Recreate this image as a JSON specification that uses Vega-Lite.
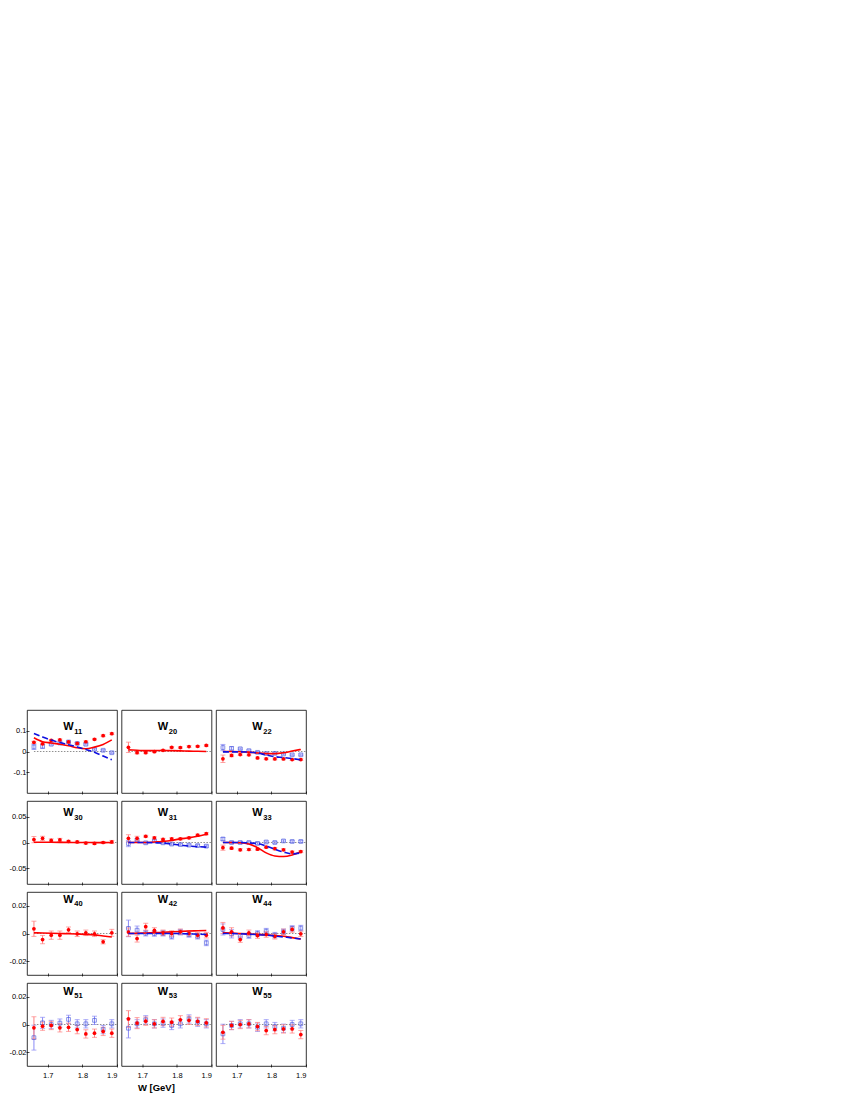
{
"$schema":"https://vega.github.io/schema/vega-lite/v6.json",
"padding":{"left":6,"top":709,"right":5,"bottom":5},
"spacing":5,
"config":{"font":"Liberation Sans","view":{"stroke":"#000","strokeWidth":0.8},
 "axis":{"labelFontSize":7.5,"labelColor":"#000","tickColor":"#000","tickSize":-3,"tickWidth":0.7,"domain":false,"grid":false,"labelPadding":3},
 "axisY":{"minExtent":20,"maxExtent":20},
 "axisX":{"minExtent":0}},
"title":{"text":"W [GeV]","orient":"bottom","fontSize":9.5,"fontWeight":"bold","offset":4,"anchor":"middle"},
"datasets":{"d":[
{"p":"W11","r":1,"t":"11","W":1.66,"a":0.044,"ae":0.005,"b":0.022,"be":0.012,"m":0.066,"n":0.087},
{"p":"W11","r":1,"W":1.685,"a":0.037,"ae":0.004,"b":0.025,"be":0.01,"m":0.047,"n":0.07},
{"p":"W11","r":1,"W":1.71,"a":0.054,"ae":0.004,"b":0.035,"be":0.004,"m":0.041,"n":0.055},
{"p":"W11","r":1,"W":1.735,"a":0.056,"ae":0.004,"b":0.041,"be":0.004,"m":0.035,"n":0.043},
{"p":"W11","r":1,"W":1.76,"a":0.046,"ae":0.004,"b":0.046,"be":0.004,"m":0.028,"n":0.033},
{"p":"W11","r":1,"W":1.785,"a":0.039,"ae":0.004,"b":0.039,"be":0.004,"m":0.018,"n":0.022},
{"p":"W11","r":1,"W":1.81,"a":0.047,"ae":0.004,"b":0.035,"be":0.004,"m":0.013,"n":0.01},
{"p":"W11","r":1,"W":1.835,"a":0.059,"ae":0.004,"b":0.011,"be":0.004,"m":0.021,"n":-0.004},
{"p":"W11","r":1,"W":1.86,"a":0.076,"ae":0.004,"b":0.006,"be":0.004,"m":0.034,"n":-0.022},
{"p":"W11","r":1,"W":1.885,"a":0.086,"ae":0.004,"b":-0.006,"be":0.004,"m":0.056,"n":-0.04},
{"p":"W20","r":1,"t":"20","W":1.66,"a":0.02,"ae":0.025,"m":0.008},
{"p":"W20","r":1,"W":1.685,"a":-0.006,"ae":0.005,"m":0.006},
{"p":"W20","r":1,"W":1.71,"a":-0.006,"ae":0.004,"m":0.004},
{"p":"W20","r":1,"W":1.735,"a":-0.001,"ae":0.004,"m":0.004},
{"p":"W20","r":1,"W":1.76,"a":0.006,"ae":0.004,"m":0.005},
{"p":"W20","r":1,"W":1.785,"a":0.02,"ae":0.004,"m":0.004},
{"p":"W20","r":1,"W":1.81,"a":0.019,"ae":0.004,"m":0.003},
{"p":"W20","r":1,"W":1.835,"a":0.024,"ae":0.004,"m":0.002},
{"p":"W20","r":1,"W":1.86,"a":0.025,"ae":0.004,"m":0.001},
{"p":"W20","r":1,"W":1.885,"a":0.029,"ae":0.004,"m":0.0},
{"p":"W22","r":1,"t":"22","W":1.66,"a":-0.035,"ae":0.018,"b":0.019,"be":0.015,"m":0.0,"n":-0.002},
{"p":"W22","r":1,"W":1.685,"a":-0.019,"ae":0.006,"b":0.015,"be":0.008,"m":0.0,"n":-0.002},
{"p":"W22","r":1,"W":1.71,"a":-0.015,"ae":0.004,"b":0.013,"be":0.004,"m":-0.001,"n":-0.002},
{"p":"W22","r":1,"W":1.735,"a":-0.016,"ae":0.004,"b":0.004,"be":0.004,"m":-0.003,"n":-0.003},
{"p":"W22","r":1,"W":1.76,"a":-0.031,"ae":0.004,"b":-0.004,"be":0.004,"m":-0.007,"n":-0.007},
{"p":"W22","r":1,"W":1.785,"a":-0.035,"ae":0.004,"b":-0.01,"be":0.004,"m":-0.01,"n":-0.017},
{"p":"W22","r":1,"W":1.81,"a":-0.036,"ae":0.004,"b":-0.009,"be":0.004,"m":-0.01,"n":-0.025},
{"p":"W22","r":1,"W":1.835,"a":-0.036,"ae":0.004,"b":-0.012,"be":0.004,"m":-0.006,"n":-0.029},
{"p":"W22","r":1,"W":1.86,"a":-0.039,"ae":0.004,"b":-0.016,"be":0.004,"m":0.002,"n":-0.034},
{"p":"W22","r":1,"W":1.885,"a":-0.039,"ae":0.004,"b":-0.016,"be":0.004,"m":0.01,"n":-0.04},
{"p":"W30","r":2,"t":"30","W":1.66,"a":0.0056,"ae":0.006,"m":0.0005},
{"p":"W30","r":2,"W":1.685,"a":0.008,"ae":0.004,"m":0.0005},
{"p":"W30","r":2,"W":1.71,"a":0.004,"ae":0.003,"m":0.0004},
{"p":"W30","r":2,"W":1.735,"a":0.005,"ae":0.003,"m":0.0003},
{"p":"W30","r":2,"W":1.76,"a":0.002,"ae":0.002,"m":0.0002},
{"p":"W30","r":2,"W":1.785,"a":0.001,"ae":0.002,"m":0.0},
{"p":"W30","r":2,"W":1.81,"a":-0.001,"ae":0.002,"m":0.0},
{"p":"W30","r":2,"W":1.835,"a":-0.0017,"ae":0.002,"m":-0.0002},
{"p":"W30","r":2,"W":1.86,"a":0.0,"ae":0.002,"m":-0.0002},
{"p":"W30","r":2,"W":1.885,"a":0.001,"ae":0.003,"m":0.0},
{"p":"W31","r":2,"t":"31","W":1.66,"a":0.008,"ae":0.007,"b":-0.002,"be":0.006,"m":0.0,"n":0.0},
{"p":"W31","r":2,"W":1.685,"a":0.008,"ae":0.004,"b":0.0045,"be":0.003,"m":0.0,"n":0.0},
{"p":"W31","r":2,"W":1.71,"a":0.012,"ae":0.002,"b":-0.0006,"be":0.002,"m":0.0,"n":0.0},
{"p":"W31","r":2,"W":1.735,"a":0.009,"ae":0.002,"b":0.003,"be":0.002,"m":0.001,"n":-0.0005},
{"p":"W31","r":2,"W":1.76,"a":0.006,"ae":0.002,"b":-0.0006,"be":0.002,"m":0.002,"n":-0.001},
{"p":"W31","r":2,"W":1.785,"a":0.007,"ae":0.002,"b":-0.003,"be":0.002,"m":0.004,"n":-0.003},
{"p":"W31","r":2,"W":1.81,"a":0.007,"ae":0.002,"b":-0.004,"be":0.002,"m":0.007,"n":-0.005},
{"p":"W31","r":2,"W":1.835,"a":0.009,"ae":0.002,"b":-0.005,"be":0.002,"m":0.009,"n":-0.007},
{"p":"W31","r":2,"W":1.86,"a":0.014,"ae":0.002,"b":-0.006,"be":0.002,"m":0.012,"n":-0.008},
{"p":"W31","r":2,"W":1.885,"a":0.017,"ae":0.002,"b":-0.007,"be":0.002,"m":0.016,"n":-0.009},
{"p":"W33","r":2,"t":"33","W":1.66,"a":-0.01,"ae":0.005,"b":0.0067,"be":0.003,"m":0.0,"n":0.0},
{"p":"W33","r":2,"W":1.685,"a":-0.011,"ae":0.002,"b":0.0,"be":0.002,"m":0.0,"n":0.0},
{"p":"W33","r":2,"W":1.71,"a":-0.014,"ae":0.002,"b":0.0,"be":0.002,"m":-0.0005,"n":0.0},
{"p":"W33","r":2,"W":1.735,"a":-0.0135,"ae":0.002,"b":0.0,"be":0.002,"m":-0.003,"n":-0.001},
{"p":"W33","r":2,"W":1.76,"a":-0.013,"ae":0.002,"b":-0.0017,"be":0.002,"m":-0.01,"n":-0.002},
{"p":"W33","r":2,"W":1.785,"a":-0.009,"ae":0.002,"b":0.001,"be":0.002,"m":-0.02,"n":-0.007},
{"p":"W33","r":2,"W":1.81,"a":-0.012,"ae":0.002,"b":0.0,"be":0.002,"m":-0.026,"n":-0.013},
{"p":"W33","r":2,"W":1.835,"a":-0.014,"ae":0.002,"b":0.003,"be":0.002,"m":-0.027,"n":-0.0185},
{"p":"W33","r":2,"W":1.86,"a":-0.0185,"ae":0.002,"b":0.002,"be":0.002,"m":-0.024,"n":-0.022},
{"p":"W33","r":2,"W":1.885,"a":-0.0175,"ae":0.002,"b":0.002,"be":0.002,"m":-0.018,"n":-0.02},
{"p":"W40","r":3,"t":"40","W":1.66,"a":0.0034,"ae":0.0055,"m":0.0005},
{"p":"W40","r":3,"W":1.685,"a":-0.0044,"ae":0.003,"m":0.0004},
{"p":"W40","r":3,"W":1.71,"a":-0.0012,"ae":0.003,"m":0.0002},
{"p":"W40","r":3,"W":1.735,"a":-0.0012,"ae":0.003,"m":0.0},
{"p":"W40","r":3,"W":1.76,"a":0.0027,"ae":0.002,"m":-0.0002},
{"p":"W40","r":3,"W":1.785,"a":-0.0002,"ae":0.002,"m":-0.0004},
{"p":"W40","r":3,"W":1.81,"a":0.0005,"ae":0.002,"m":-0.0006},
{"p":"W40","r":3,"W":1.835,"a":-0.0002,"ae":0.002,"m":-0.001},
{"p":"W40","r":3,"W":1.86,"a":-0.006,"ae":0.0015,"m":-0.0018},
{"p":"W40","r":3,"W":1.885,"a":0.0005,"ae":0.0025,"m":-0.0025},
{"p":"W42","r":3,"t":"42","W":1.66,"a":0.001,"ae":0.003,"b":0.0037,"be":0.006,"m":0.0,"n":0.0},
{"p":"W42","r":3,"W":1.685,"a":-0.0037,"ae":0.0025,"b":0.0024,"be":0.003,"m":0.0002,"n":0.0},
{"p":"W42","r":3,"W":1.71,"a":0.0049,"ae":0.0025,"b":0.0002,"be":0.002,"m":0.0004,"n":0.0},
{"p":"W42","r":3,"W":1.735,"a":0.0022,"ae":0.002,"b":0.0,"be":0.002,"m":0.0006,"n":0.0},
{"p":"W42","r":3,"W":1.76,"a":0.0005,"ae":0.002,"b":0.0002,"be":0.002,"m":0.0009,"n":0.0},
{"p":"W42","r":3,"W":1.785,"a":0.0,"ae":0.002,"b":-0.002,"be":0.002,"m":0.0012,"n":0.0},
{"p":"W42","r":3,"W":1.81,"a":0.0012,"ae":0.002,"b":0.001,"be":0.002,"m":0.0015,"n":-0.0001},
{"p":"W42","r":3,"W":1.835,"a":0.0,"ae":0.002,"b":-0.0007,"be":0.002,"m":0.0018,"n":-0.0003},
{"p":"W42","r":3,"W":1.86,"a":-0.0012,"ae":0.002,"b":-0.002,"be":0.002,"m":0.002,"n":-0.0005},
{"p":"W42","r":3,"W":1.885,"a":-0.0012,"ae":0.002,"b":-0.0068,"be":0.002,"m":0.0022,"n":-0.0007},
{"p":"W44","r":3,"t":"44","W":1.66,"a":0.004,"ae":0.004,"b":0.0029,"be":0.004,"m":0.0005,"n":0.0},
{"p":"W44","r":3,"W":1.685,"a":0.0012,"ae":0.003,"b":-0.0002,"be":0.003,"m":0.0003,"n":0.0},
{"p":"W44","r":3,"W":1.71,"a":-0.0044,"ae":0.002,"b":-0.002,"be":0.002,"m":0.0,"n":-0.0002},
{"p":"W44","r":3,"W":1.735,"a":0.0005,"ae":0.002,"b":-0.0015,"be":0.002,"m":-0.0003,"n":-0.0005},
{"p":"W44","r":3,"W":1.76,"a":-0.0015,"ae":0.002,"b":0.0,"be":0.002,"m":-0.0006,"n":-0.0008},
{"p":"W44","r":3,"W":1.785,"a":-0.0007,"ae":0.002,"b":0.0017,"be":0.002,"m":-0.001,"n":-0.0012},
{"p":"W44","r":3,"W":1.81,"a":-0.002,"ae":0.002,"b":-0.0012,"be":0.002,"m":-0.0015,"n":-0.0018},
{"p":"W44","r":3,"W":1.835,"a":0.0012,"ae":0.002,"b":0.0012,"be":0.002,"m":-0.002,"n":-0.0025},
{"p":"W44","r":3,"W":1.86,"a":0.0029,"ae":0.002,"b":0.0037,"be":0.002,"m":-0.003,"n":-0.0032},
{"p":"W44","r":3,"W":1.885,"a":-0.0002,"ae":0.002,"b":0.0039,"be":0.002,"m":-0.004,"n":-0.004},
{"p":"W51","r":4,"t":"51","W":1.66,"a":-0.0024,"ae":0.008,"b":-0.0095,"be":0.009,"m":0.0,"n":0.0},
{"p":"W51","r":4,"W":1.685,"a":-0.0012,"ae":0.003,"b":0.0012,"be":0.004},
{"p":"W51","r":4,"W":1.71,"a":-0.0007,"ae":0.003,"b":0.0,"be":0.003},
{"p":"W51","r":4,"W":1.735,"a":-0.0024,"ae":0.003,"b":0.001,"be":0.003},
{"p":"W51","r":4,"W":1.76,"a":-0.002,"ae":0.003,"b":0.0037,"be":0.003},
{"p":"W51","r":4,"W":1.785,"a":-0.0037,"ae":0.003,"b":0.0005,"be":0.003},
{"p":"W51","r":4,"W":1.81,"a":-0.0068,"ae":0.003,"b":0.0005,"be":0.003},
{"p":"W51","r":4,"W":1.835,"a":-0.0063,"ae":0.003,"b":0.003,"be":0.003},
{"p":"W51","r":4,"W":1.86,"a":-0.005,"ae":0.003,"b":-0.0037,"be":0.003},
{"p":"W51","r":4,"W":1.885,"a":-0.0063,"ae":0.003,"b":0.0005,"be":0.003,"m":0.0,"n":0.0},
{"p":"W53","r":4,"t":"53","W":1.66,"a":0.004,"ae":0.006,"b":-0.0027,"be":0.007,"m":0.0,"n":0.0},
{"p":"W53","r":4,"W":1.685,"a":0.001,"ae":0.004,"b":0.0005,"be":0.003},
{"p":"W53","r":4,"W":1.71,"a":0.0024,"ae":0.003,"b":0.0034,"be":0.003},
{"p":"W53","r":4,"W":1.735,"a":0.0005,"ae":0.003,"b":0.0005,"be":0.003},
{"p":"W53","r":4,"W":1.76,"a":0.0022,"ae":0.003,"b":0.001,"be":0.003},
{"p":"W53","r":4,"W":1.785,"a":0.0017,"ae":0.003,"b":-0.0007,"be":0.003},
{"p":"W53","r":4,"W":1.81,"a":0.0034,"ae":0.003,"b":0.0005,"be":0.003},
{"p":"W53","r":4,"W":1.835,"a":0.003,"ae":0.003,"b":0.004,"be":0.003},
{"p":"W53","r":4,"W":1.86,"a":0.0022,"ae":0.003,"b":0.0017,"be":0.003},
{"p":"W53","r":4,"W":1.885,"a":0.0012,"ae":0.003,"b":0.0005,"be":0.003,"m":0.0,"n":0.0},
{"p":"W55","r":4,"t":"55","W":1.66,"a":-0.0056,"ae":0.005,"b":-0.0068,"be":0.007,"m":0.0,"n":0.0},
{"p":"W55","r":4,"W":1.685,"a":-0.0007,"ae":0.003,"b":-0.0007,"be":0.003},
{"p":"W55","r":4,"W":1.71,"a":0.0,"ae":0.003,"b":0.0005,"be":0.003},
{"p":"W55","r":4,"W":1.735,"a":0.0005,"ae":0.003,"b":0.0005,"be":0.003},
{"p":"W55","r":4,"W":1.76,"a":-0.0015,"ae":0.003,"b":-0.002,"be":0.003},
{"p":"W55","r":4,"W":1.785,"a":-0.0044,"ae":0.003,"b":0.0005,"be":0.003},
{"p":"W55","r":4,"W":1.81,"a":-0.0037,"ae":0.003,"b":-0.0015,"be":0.003},
{"p":"W55","r":4,"W":1.835,"a":-0.0032,"ae":0.003,"b":-0.0027,"be":0.003},
{"p":"W55","r":4,"W":1.86,"a":-0.0032,"ae":0.003,"b":0.0,"be":0.003},
{"p":"W55","r":4,"W":1.885,"a":-0.0073,"ae":0.003,"b":0.0005,"be":0.003,"m":0.0,"n":0.0}
]},
"vconcat":[
{"data":{"name":"d"},"transform":[{"filter":"datum.r==1"}],
 "facet":{"column":{"field":"p","type":"nominal","header":null}},"spacing":2.5,
 "spec":{"width":90,"height":83,"layer":[
  {"transform":[{"filter":"datum.t"}],"mark":{"type":"rule","color":"#444","strokeWidth":0.6,"strokeDash":[1.5,1.5]},
   "encoding":{"x":{"field":"W","type":"quantitative","scale":{"domain":[1.645,1.9]},"axis":{"values":[1.7,1.8,1.9],"labels":false,"title":null}},
     "y":{"datum":0,"type":"quantitative","scale":{"domain":[-0.153,0.153]},"axis":{"values":[-0.1,0,0.1],"title":null,"labelExpr":"datum.value < 0 ? '-' + format(-datum.value,'~g') : format(datum.value,'~g')"}},
     "x2":{"datum":1.9}}},
  {"transform":[{"filter":"isValid(datum.b)"}],"mark":{"type":"errorbar","color":"#8a8af5","ticks":true},"encoding":{"x":{"field":"W","type":"quantitative"},"y":{"field":"b","type":"quantitative","title":null},"yError":{"field":"be"}}},
  {"transform":[{"filter":"isValid(datum.a)"}],"mark":{"type":"errorbar","color":"#ff8080","ticks":true},"encoding":{"x":{"field":"W","type":"quantitative"},"y":{"field":"a","type":"quantitative","title":null},"yError":{"field":"ae"}}},
  {"transform":[{"filter":"isValid(datum.b)"}],"mark":{"type":"point","shape":"square","filled":false,"color":"#4455dd","size":14,"strokeWidth":0.9},"encoding":{"x":{"field":"W","type":"quantitative"},"y":{"field":"b","type":"quantitative","title":null}}},
  {"transform":[{"filter":"isValid(datum.a)"}],"mark":{"type":"point","shape":"circle","filled":true,"color":"#ff0000","size":14,"opacity":1},"encoding":{"x":{"field":"W","type":"quantitative"},"y":{"field":"a","type":"quantitative","title":null}}},
  {"mark":{"type":"line","color":"#ff0000","strokeWidth":1.6,"interpolate":"monotone"},"encoding":{"x":{"field":"W","type":"quantitative"},"y":{"field":"m","type":"quantitative","title":null}}},
  {"mark":{"type":"line","color":"#1010e0","strokeWidth":1.6,"strokeDash":[6,3],"interpolate":"monotone"},"encoding":{"x":{"field":"W","type":"quantitative"},"y":{"field":"n","type":"quantitative","title":null}}},
  {"transform":[{"filter":"datum.t"}],"mark":{"type":"text","text":"W","fontSize":11,"fontWeight":"bold","align":"right","baseline":"middle"},"encoding":{"x":{"datum":1.775},"y":{"datum":0.117}}},
  {"transform":[{"filter":"datum.t"}],"mark":{"type":"text","fontSize":7.5,"fontWeight":"bold","align":"left","baseline":"middle","dx":0.5,"dy":4.5},"encoding":{"x":{"datum":1.775},"y":{"datum":0.117},"text":{"field":"t"}}}
 ]}},
{"data":{"name":"d"},"transform":[{"filter":"datum.r==2"}],
 "facet":{"column":{"field":"p","type":"nominal","header":null}},"spacing":2.5,
 "spec":{"width":90,"height":83,"layer":[
  {"transform":[{"filter":"datum.t"}],"mark":{"type":"rule","color":"#444","strokeWidth":0.6,"strokeDash":[1.5,1.5]},
   "encoding":{"x":{"field":"W","type":"quantitative","scale":{"domain":[1.645,1.9]},"axis":{"values":[1.7,1.8,1.9],"labels":false,"title":null}},
     "y":{"datum":0,"type":"quantitative","scale":{"domain":[-0.07,0.07]},"axis":{"values":[-0.05,0,0.05],"title":null,"labelExpr":"datum.value < 0 ? '-' + format(-datum.value,'~g') : format(datum.value,'~g')"}},
     "x2":{"datum":1.9}}},
  {"transform":[{"filter":"isValid(datum.b)"}],"mark":{"type":"errorbar","color":"#8a8af5","ticks":true},"encoding":{"x":{"field":"W","type":"quantitative"},"y":{"field":"b","type":"quantitative","title":null},"yError":{"field":"be"}}},
  {"transform":[{"filter":"isValid(datum.a)"}],"mark":{"type":"errorbar","color":"#ff8080","ticks":true},"encoding":{"x":{"field":"W","type":"quantitative"},"y":{"field":"a","type":"quantitative","title":null},"yError":{"field":"ae"}}},
  {"transform":[{"filter":"isValid(datum.b)"}],"mark":{"type":"point","shape":"square","filled":false,"color":"#4455dd","size":14,"strokeWidth":0.9},"encoding":{"x":{"field":"W","type":"quantitative"},"y":{"field":"b","type":"quantitative","title":null}}},
  {"transform":[{"filter":"isValid(datum.a)"}],"mark":{"type":"point","shape":"circle","filled":true,"color":"#ff0000","size":14,"opacity":1},"encoding":{"x":{"field":"W","type":"quantitative"},"y":{"field":"a","type":"quantitative","title":null}}},
  {"mark":{"type":"line","color":"#ff0000","strokeWidth":1.6,"interpolate":"monotone"},"encoding":{"x":{"field":"W","type":"quantitative"},"y":{"field":"m","type":"quantitative","title":null}}},
  {"mark":{"type":"line","color":"#1010e0","strokeWidth":1.6,"strokeDash":[6,3],"interpolate":"monotone"},"encoding":{"x":{"field":"W","type":"quantitative"},"y":{"field":"n","type":"quantitative","title":null}}},
  {"transform":[{"filter":"datum.t"}],"mark":{"type":"text","text":"W","fontSize":11,"fontWeight":"bold","align":"right","baseline":"middle"},"encoding":{"x":{"datum":1.775},"y":{"datum":0.0565}}},
  {"transform":[{"filter":"datum.t"}],"mark":{"type":"text","fontSize":7.5,"fontWeight":"bold","align":"left","baseline":"middle","dx":0.5,"dy":4.5},"encoding":{"x":{"datum":1.775},"y":{"datum":0.0565},"text":{"field":"t"}}}
 ]}},
{"data":{"name":"d"},"transform":[{"filter":"datum.r==3"}],
 "facet":{"column":{"field":"p","type":"nominal","header":null}},"spacing":2.5,
 "spec":{"width":90,"height":83,"layer":[
  {"transform":[{"filter":"datum.t"}],"mark":{"type":"rule","color":"#444","strokeWidth":0.6,"strokeDash":[1.5,1.5]},
   "encoding":{"x":{"field":"W","type":"quantitative","scale":{"domain":[1.645,1.9]},"axis":{"values":[1.7,1.8,1.9],"labels":false,"title":null}},
     "y":{"datum":0,"type":"quantitative","scale":{"domain":[-0.03,0.03]},"axis":{"values":[-0.02,0,0.02],"title":null,"labelExpr":"datum.value < 0 ? '-' + format(-datum.value,'~g') : format(datum.value,'~g')"}},
     "x2":{"datum":1.9}}},
  {"transform":[{"filter":"isValid(datum.b)"}],"mark":{"type":"errorbar","color":"#8a8af5","ticks":true},"encoding":{"x":{"field":"W","type":"quantitative"},"y":{"field":"b","type":"quantitative","title":null},"yError":{"field":"be"}}},
  {"transform":[{"filter":"isValid(datum.a)"}],"mark":{"type":"errorbar","color":"#ff8080","ticks":true},"encoding":{"x":{"field":"W","type":"quantitative"},"y":{"field":"a","type":"quantitative","title":null},"yError":{"field":"ae"}}},
  {"transform":[{"filter":"isValid(datum.b)"}],"mark":{"type":"point","shape":"square","filled":false,"color":"#4455dd","size":14,"strokeWidth":0.9},"encoding":{"x":{"field":"W","type":"quantitative"},"y":{"field":"b","type":"quantitative","title":null}}},
  {"transform":[{"filter":"isValid(datum.a)"}],"mark":{"type":"point","shape":"circle","filled":true,"color":"#ff0000","size":14,"opacity":1},"encoding":{"x":{"field":"W","type":"quantitative"},"y":{"field":"a","type":"quantitative","title":null}}},
  {"mark":{"type":"line","color":"#ff0000","strokeWidth":1.6,"interpolate":"monotone"},"encoding":{"x":{"field":"W","type":"quantitative"},"y":{"field":"m","type":"quantitative","title":null}}},
  {"mark":{"type":"line","color":"#1010e0","strokeWidth":1.6,"strokeDash":[6,3],"interpolate":"monotone"},"encoding":{"x":{"field":"W","type":"quantitative"},"y":{"field":"n","type":"quantitative","title":null}}},
  {"transform":[{"filter":"datum.t"}],"mark":{"type":"text","text":"W","fontSize":11,"fontWeight":"bold","align":"right","baseline":"middle"},"encoding":{"x":{"datum":1.775},"y":{"datum":0.0245}}},
  {"transform":[{"filter":"datum.t"}],"mark":{"type":"text","fontSize":7.5,"fontWeight":"bold","align":"left","baseline":"middle","dx":0.5,"dy":4.5},"encoding":{"x":{"datum":1.775},"y":{"datum":0.0245},"text":{"field":"t"}}}
 ]}},
{"data":{"name":"d"},"transform":[{"filter":"datum.r==4"}],
 "facet":{"column":{"field":"p","type":"nominal","header":null}},"spacing":2.5,
 "spec":{"width":90,"height":83,"layer":[
  {"transform":[{"filter":"datum.t"}],"mark":{"type":"rule","color":"#444","strokeWidth":0.6,"strokeDash":[1.5,1.5]},
   "encoding":{"x":{"field":"W","type":"quantitative","scale":{"domain":[1.645,1.9]},"axis":{"values":[1.7,1.8,1.9],"format":".1f","title":null,"labelPadding":7}},
     "y":{"datum":0,"type":"quantitative","scale":{"domain":[-0.03,0.03]},"axis":{"values":[-0.02,0,0.02],"title":null,"labelExpr":"datum.value < 0 ? '-' + format(-datum.value,'~g') : format(datum.value,'~g')"}},
     "x2":{"datum":1.9}}},
  {"transform":[{"filter":"isValid(datum.b)"}],"mark":{"type":"errorbar","color":"#8a8af5","ticks":true},"encoding":{"x":{"field":"W","type":"quantitative"},"y":{"field":"b","type":"quantitative","title":null},"yError":{"field":"be"}}},
  {"transform":[{"filter":"isValid(datum.a)"}],"mark":{"type":"errorbar","color":"#ff8080","ticks":true},"encoding":{"x":{"field":"W","type":"quantitative"},"y":{"field":"a","type":"quantitative","title":null},"yError":{"field":"ae"}}},
  {"transform":[{"filter":"isValid(datum.b)"}],"mark":{"type":"point","shape":"square","filled":false,"color":"#4455dd","size":14,"strokeWidth":0.9},"encoding":{"x":{"field":"W","type":"quantitative"},"y":{"field":"b","type":"quantitative","title":null}}},
  {"transform":[{"filter":"isValid(datum.a)"}],"mark":{"type":"point","shape":"circle","filled":true,"color":"#ff0000","size":14,"opacity":1},"encoding":{"x":{"field":"W","type":"quantitative"},"y":{"field":"a","type":"quantitative","title":null}}},
  {"mark":{"type":"line","color":"#ff0000","strokeWidth":1.6},"encoding":{"x":{"field":"W","type":"quantitative"},"y":{"field":"m","type":"quantitative","title":null}}},
  {"mark":{"type":"line","color":"#1010e0","strokeWidth":1.6,"strokeDash":[6,3]},"encoding":{"x":{"field":"W","type":"quantitative"},"y":{"field":"n","type":"quantitative","title":null}}},
  {"transform":[{"filter":"datum.t"}],"mark":{"type":"text","text":"W","fontSize":11,"fontWeight":"bold","align":"right","baseline":"middle"},"encoding":{"x":{"datum":1.775},"y":{"datum":0.0235}}},
  {"transform":[{"filter":"datum.t"}],"mark":{"type":"text","fontSize":7.5,"fontWeight":"bold","align":"left","baseline":"middle","dx":0.5,"dy":4.5},"encoding":{"x":{"datum":1.775},"y":{"datum":0.0235},"text":{"field":"t"}}}
 ]}}
]
}
